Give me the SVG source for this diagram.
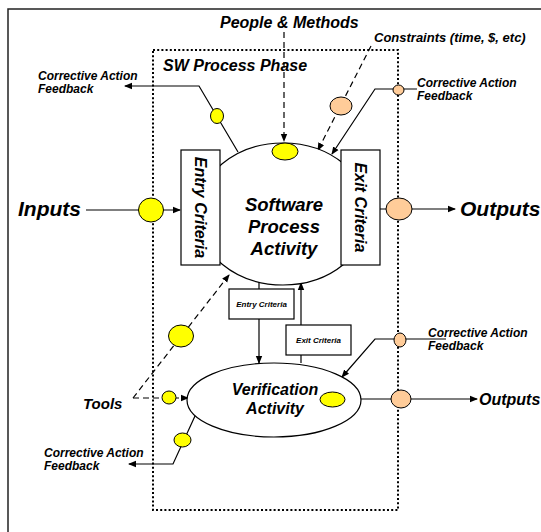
<svg xmlns="http://www.w3.org/2000/svg" width="541" height="532" viewBox="0 0 541 532">
  <defs>
    <marker id="arr" markerWidth="8" markerHeight="8" refX="7" refY="4" orient="auto" markerUnits="userSpaceOnUse">
      <path d="M0,0.8 L8,4 L0,7.2 Z" fill="#000"/>
    </marker>
    <style>
      text { font-family: "Liberation Sans", Arial, sans-serif; font-weight: bold; font-style: italic; fill: #000; }
      .line { fill: none; stroke: #000; stroke-width: 1.2; }
      .dash { fill: none; stroke: #000; stroke-width: 1.2; stroke-dasharray: 6 4; }
      .box { fill: #fff; stroke: #000; stroke-width: 1.2; }
      .yel { fill: #ffff00; stroke: #000; stroke-width: 1; }
      .org { fill: #ffcc99; stroke: #000; stroke-width: 1; }
      .lbl { font-size: 12px; }
    </style>
  </defs>

  <rect width="541" height="532" fill="#fff"/>
  <!-- outer frame -->
  <rect x="8" y="9" width="620" height="620" fill="none" stroke="#222" stroke-width="1.5"/>

  <!-- phase boundary -->
  <g id="phase">
    <rect x="153" y="50" width="245" height="460" fill="none" stroke="#000" stroke-width="2" stroke-dasharray="2 2.2"/>
    <text x="163" y="71" font-size="16">SW Process Phase</text>
  </g>

  <g id="connectors">
    <!-- people & methods -->
    <path class="dash" d="M284,32 L284,141" marker-end="url(#arr)"/>
    <!-- constraints -->
    <path class="dash" d="M371,46 L318,150" marker-end="url(#arr)"/>
    <!-- corrective action top right -->
    <path class="line" d="M417,89 L375,89 L332,154" marker-end="url(#arr)"/>
    <!-- corrective action top left -->
    <path class="line" d="M238,152 L199,86 L125,86" marker-end="url(#arr)"/>
    <!-- inputs -->
    <path class="line" d="M86,210 L180,210" marker-end="url(#arr)"/>
    <!-- outputs -->
    <path class="line" d="M380,209 L455,209" marker-end="url(#arr)"/>
    <!-- tools -->
    <path class="dash" d="M133,398 L229,275" marker-end="url(#arr)"/>
    <path class="dash" d="M133,398 L188,398" marker-end="url(#arr)"/>
    <!-- process to verification -->
    <path class="line" d="M259,282 L259,363" marker-end="url(#arr)"/>
    <path class="line" d="M301,363 L301,283" marker-end="url(#arr)"/>
    <!-- corrective action bottom right -->
    <path class="line" d="M446,339 L375,339 L342,377" marker-end="url(#arr)"/>
    <!-- verification outputs -->
    <path class="line" d="M361,399 L477,399" marker-end="url(#arr)"/>
    <!-- corrective action bottom left -->
    <path class="line" d="M195,416 L173,464 L129,464" marker-end="url(#arr)"/>
  </g>

  <g id="process-activity">
    <ellipse cx="283" cy="214" rx="86" ry="71" fill="#fff" stroke="#000" stroke-width="1.2"/>
    <text x="284" y="211" font-size="18.5" text-anchor="middle">Software</text>
    <text x="284" y="233" font-size="18.5" text-anchor="middle">Process</text>
    <text x="284" y="255" font-size="18.5" text-anchor="middle">Activity</text>
  </g>

  <g id="entry-criteria">
    <rect class="box" x="181" y="150" width="39" height="115"/>
    <text transform="translate(200.5,207.5) rotate(90)" font-size="16" text-anchor="middle" dy="5.5">Entry Criteria</text>
  </g>

  <g id="exit-criteria">
    <rect class="box" x="341" y="150" width="39" height="115"/>
    <text transform="translate(360.5,207.5) rotate(90)" font-size="16" text-anchor="middle" dy="5.5">Exit Criteria</text>
  </g>

  <g id="verification-activity">
    <ellipse cx="274" cy="400" rx="87" ry="37" fill="#fff" stroke="#000" stroke-width="1.2"/>
    <text x="275" y="395" font-size="16" text-anchor="middle">Verification</text>
    <text x="275" y="414" font-size="16" text-anchor="middle">Activity</text>
  </g>

  <g id="entry-criteria-small">
    <rect class="box" x="229" y="289" width="65" height="30"/>
    <text x="261.5" y="307" font-size="8" text-anchor="middle">Entry Criteria</text>
  </g>

  <g id="exit-criteria-small">
    <rect class="box" x="286" y="325" width="65" height="30"/>
    <text x="318.5" y="343" font-size="8" text-anchor="middle">Exit Criteria</text>
  </g>

  <!-- flow markers -->
  <g id="markers">
    <ellipse class="yel" cx="285" cy="151.5" rx="13" ry="8.5"/>
    <ellipse class="org" cx="341" cy="106" rx="11" ry="9"/>
    <ellipse class="org" cx="398.5" cy="90" rx="5.5" ry="5"/>
    <ellipse class="yel" cx="217" cy="116" rx="6.5" ry="7.5"/>
    <ellipse class="yel" cx="151" cy="210" rx="12.5" ry="12"/>
    <ellipse class="org" cx="399" cy="209" rx="13" ry="11"/>
    <ellipse class="yel" cx="181" cy="336" rx="12.5" ry="11"/>
    <ellipse class="yel" cx="169" cy="397.5" rx="7" ry="6.5"/>
    <ellipse class="yel" cx="332.5" cy="399.5" rx="12.5" ry="7.5"/>
    <ellipse class="org" cx="400" cy="340" rx="6" ry="7"/>
    <ellipse class="org" cx="401" cy="399" rx="10" ry="9"/>
    <ellipse class="yel" cx="182.5" cy="440" rx="8.5" ry="7"/>
  </g>

  <!-- labels -->
  <g id="labels">
    <text x="220" y="28" font-size="16">People &amp; Methods</text>
    <text x="374" y="42" font-size="13">Constraints (time, $, etc)</text>
    <text class="lbl" x="417" y="87">Corrective Action</text>
    <text class="lbl" x="417" y="100">Feedback</text>
    <text class="lbl" x="38" y="80">Corrective Action</text>
    <text class="lbl" x="38" y="93">Feedback</text>
    <text x="18" y="216" font-size="21">Inputs</text>
    <text x="460" y="216" font-size="21">Outputs</text>
    <text x="83" y="409" font-size="15">Tools</text>
    <text x="479" y="405" font-size="16">Outputs</text>
    <text class="lbl" x="428" y="337">Corrective Action</text>
    <text class="lbl" x="428" y="350">Feedback</text>
    <text class="lbl" x="44" y="457">Corrective Action</text>
    <text class="lbl" x="44" y="470">Feedback</text>
  </g>
</svg>
